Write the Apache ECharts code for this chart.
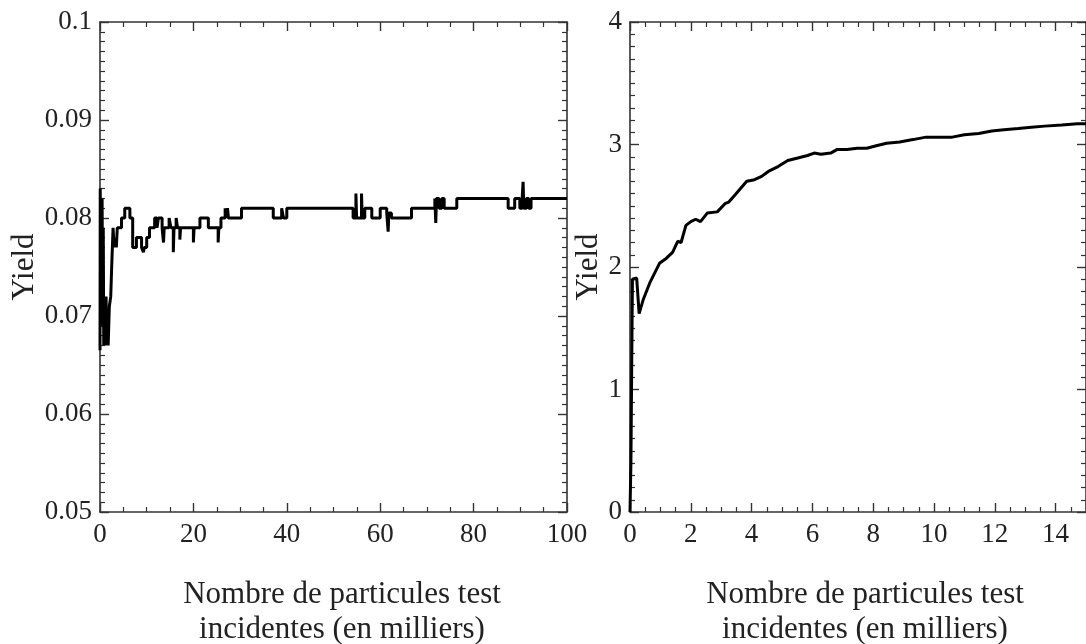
<!DOCTYPE html>
<html>
<head>
<meta charset="utf-8">
<script src="https://cdn.jsdelivr.net/npm/echarts@6/dist/echarts.min.js"></script>
<style>html,body{margin:0;padding:0;background:#fff;}#c{width:1086px;height:644px;}</style>
</head>
<body>
<div id="c"></div>
<script>
// Left panel: yield vs number of incident test particles (thousands), step trace
const leftX = [0, 0.05, 0.15, 0.25, 0.35, 0.45, 0.55, 0.7, 0.8, 0.95, 1.1, 1.3, 1.45, 1.6, 1.75, 2.0, 2.3, 2.5, 2.8, 3.0, 3.2, 3.5, 3.7, 4.6, 5.3, 6.4, 7.0, 7.8, 8.9, 9.3, 9.5, 10.0, 10.6, 11.7, 12.2, 12.5, 13.3, 13.6, 13.75, 14.8, 15.2, 15.7, 15.85, 16.3, 16.6, 17.1, 17.25, 20.0, 20.15, 21.4, 23.2, 25.3, 25.45, 25.9, 26.8, 27.1, 27.3, 27.5, 27.8, 30.3, 37.1, 38.9, 39.3, 40.0, 54.2, 54.8, 54.95, 56.0, 56.15, 56.7, 58.2, 60.0, 61.4, 61.7, 61.85, 62.4, 66.7, 71.7, 71.9, 72.05, 72.6, 73.2, 73.7, 74.2, 76.4, 87.4, 88.8, 89.9, 90.4, 90.6, 90.75, 91.3, 91.8, 92.3, 92.8, 100];
const leftY = [0.0665, 0.083, 0.074, 0.080, 0.069, 0.082, 0.072, 0.079, 0.067, 0.071, 0.067, 0.072, 0.067, 0.070, 0.067, 0.071, 0.072, 0.075, 0.079, 0.077, 0.078, 0.077, 0.079, 0.080, 0.081, 0.080, 0.077, 0.078, 0.077, 0.0765, 0.077, 0.078, 0.079, 0.080, 0.079, 0.080, 0.079, 0.0775, 0.079, 0.080, 0.079, 0.0765, 0.079, 0.080, 0.079, 0.0778, 0.079, 0.0775, 0.079, 0.080, 0.079, 0.0775, 0.079, 0.080, 0.081, 0.080, 0.081, 0.080, 0.080, 0.081, 0.080, 0.081, 0.080, 0.081, 0.080, 0.0825, 0.080, 0.0825, 0.080, 0.081, 0.080, 0.081, 0.0805, 0.0786, 0.0805, 0.080, 0.081, 0.082, 0.0795, 0.082, 0.081, 0.082, 0.081, 0.081, 0.082, 0.081, 0.082, 0.081, 0.082, 0.0837, 0.081, 0.082, 0.081, 0.082, 0.082, 0.082];

// Right panel: rising yield curve
const rightX = [0, 0.03, 0.05, 0.08, 0.22, 0.3, 0.43, 0.65, 0.81, 0.97, 1.19, 1.4, 1.57, 1.68, 1.84, 2.0, 2.16, 2.32, 2.54, 2.87, 3.14, 3.25, 3.46, 3.84, 4.06, 4.33, 4.55, 4.87, 5.19, 5.52, 5.84, 6.06, 6.28, 6.6, 6.82, 7.14, 7.47, 7.79, 8.1, 8.44, 8.87, 9.31, 9.74, 10.2, 10.6, 11.0, 11.47, 11.9, 12.3, 12.77, 13.2, 13.64, 14.2, 14.72, 15];
const rightY = [0, 0.4, 1.0, 1.9, 1.91, 1.62, 1.73, 1.87, 1.95, 2.03, 2.07, 2.12, 2.21, 2.2, 2.34, 2.37, 2.39, 2.37, 2.44, 2.45, 2.52, 2.53, 2.59, 2.70, 2.71, 2.74, 2.78, 2.82, 2.87, 2.89, 2.91, 2.93, 2.92, 2.93, 2.96, 2.96, 2.97, 2.97, 2.99, 3.01, 3.02, 3.04, 3.06, 3.06, 3.06, 3.08, 3.09, 3.11, 3.12, 3.13, 3.14, 3.15, 3.16, 3.17, 3.17];

const xTitle = 'Nombre de particules test\nincidentes (en milliers)';
const yTitle = 'Yield';

const FONT = 'Liberation Serif';
const axisColor = '#333';

function mkAxis(opts) {
  const base = {
    type: 'value',
    min: opts.min, max: opts.max, interval: opts.interval,
    gridIndex: opts.grid,
    position: opts.position,
    axisLine: { show: true, onZero: false, lineStyle: { color: axisColor, width: 1.6 } },
    axisTick: { show: true, inside: true, length: 9, lineStyle: { color: axisColor, width: 1.4 } },
    minorTick: { show: true, splitNumber: opts.minor, length: 5, lineStyle: { color: axisColor, width: 1.2 } },
    splitLine: { show: false },
    minorSplitLine: { show: false },
    axisLabel: {
      show: !!opts.labels,
      fontFamily: FONT, fontSize: 27, color: '#222', margin: opts.margin || 8,
      showMaxLabel: opts.showMax !== false,
      formatter: v => String(+v.toFixed(3))
    }
  };
  if (opts.name) Object.assign(base, opts.name);
  return base;
}

const nameStyle = { fontFamily: FONT, fontSize: 31, color: '#222' };
const titleStyle = { text: xTitle, align: 'center', verticalAlign: 'top', fontFamily: FONT, fontSize: 31, lineHeight: 35, fill: '#222' };

const chart = echarts.init(document.getElementById('c'), null, { renderer: 'canvas' });
chart.setOption({
  animation: false,
  backgroundColor: '#fff',
  grid: [
    { left: 100, top: 22, width: 467, height: 490 },
    { left: 630, top: 22, width: 462, height: 490 }
  ],
  xAxis: [
    mkAxis({ grid: 0, min: 0, max: 100, interval: 20, minor: 4, position: 'bottom', labels: true, margin: 9 }),
    mkAxis({ grid: 0, min: 0, max: 100, interval: 20, minor: 4, position: 'top' }),
    mkAxis({ grid: 1, min: 0, max: 15, interval: 2, minor: 4, position: 'bottom', labels: true, margin: 9, showMax: false }),
    mkAxis({ grid: 1, min: 0, max: 15, interval: 2, minor: 4, position: 'top' })
  ],
  yAxis: [
    mkAxis({ grid: 0, min: 0.05, max: 0.1, interval: 0.01, minor: 10, position: 'left', labels: true,
      name: { name: yTitle, nameLocation: 'middle', nameRotate: 90, nameGap: 59, nameTextStyle: nameStyle } }),
    mkAxis({ grid: 0, min: 0.05, max: 0.1, interval: 0.01, minor: 10, position: 'right' }),
    mkAxis({ grid: 1, min: 0, max: 4, interval: 1, minor: 10, position: 'left', labels: true,
      name: { name: yTitle, nameLocation: 'middle', nameRotate: 90, nameGap: 24, nameTextStyle: nameStyle } }),
    mkAxis({ grid: 1, min: 0, max: 4, interval: 1, minor: 10, position: 'right' })
  ],
  graphic: [
    { type: 'text', x: 342, y: 577, style: Object.assign({}, titleStyle) },
    { type: 'text', x: 865, y: 577, style: Object.assign({}, titleStyle) }
  ],
  series: [
    {
      type: 'line', xAxisIndex: 0, yAxisIndex: 0, step: 'end', showSymbol: false, symbol: 'none',
      lineStyle: { color: '#000', width: 3 },
      data: leftX.map((x, i) => [x, leftY[i]])
    },
    {
      type: 'line', xAxisIndex: 2, yAxisIndex: 2, showSymbol: false, symbol: 'none',
      lineStyle: { color: '#000', width: 3 },
      data: rightX.map((x, i) => [x, rightY[i]])
    }
  ]
});
</script>
</body>
</html>
